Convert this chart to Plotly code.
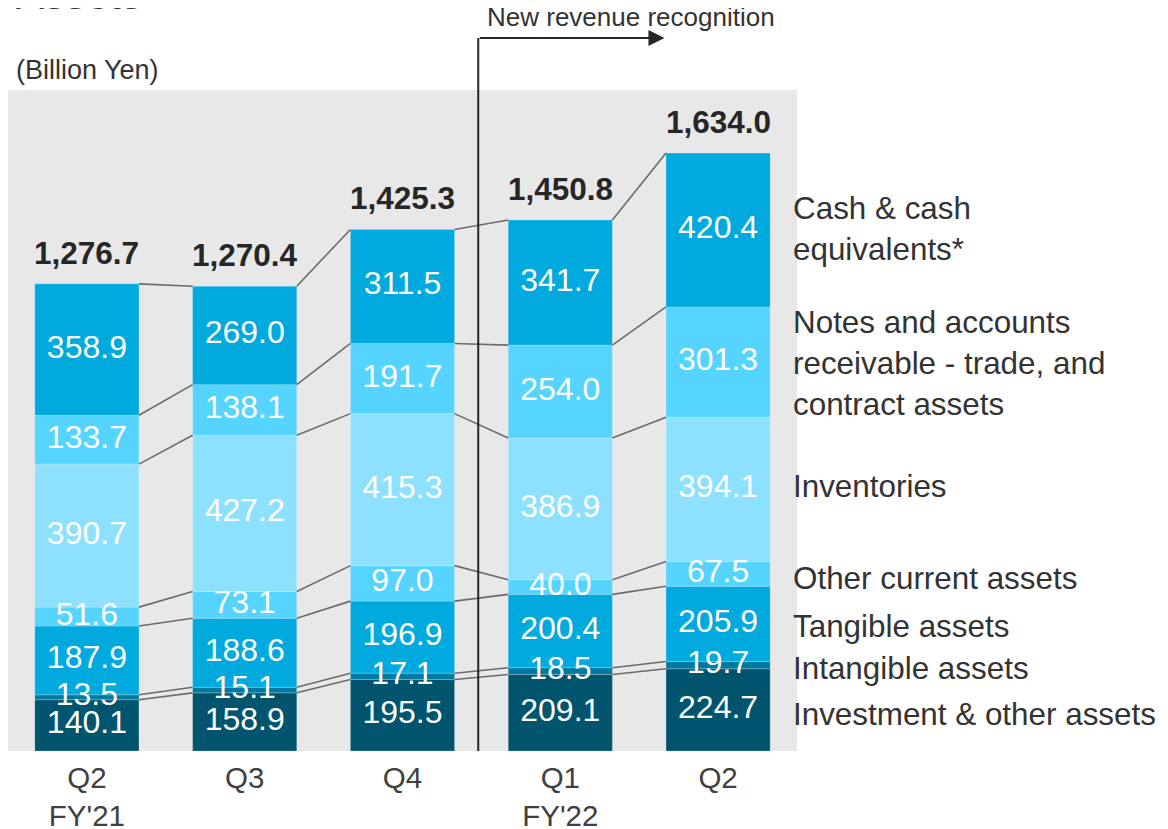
import numpy as np
import plotly.graph_objects as go

# ---------------- data ----------------
quarters = ["Q2<br>FY'21", "Q3", "Q4", "Q1<br>FY'22", "Q2"]
series_names = [
    "Investment & other assets",
    "Intangible assets",
    "Tangible assets",
    "Other current assets",
    "Inventories",
    "Notes and accounts<br>receivable - trade, and<br>contract assets",
    "Cash & cash<br>equivalents*",
]
investment = [140.1, 158.9, 195.5, 209.1, 224.7]
intangible = [13.5, 15.1, 17.1, 18.5, 19.7]
tangible = [187.9, 188.6, 196.9, 200.4, 205.9]
other_current = [51.6, 73.1, 97.0, 40.0, 67.5]
inventories = [390.7, 427.2, 415.3, 386.9, 394.1]
receivables = [133.7, 138.1, 191.7, 254.0, 301.3]
cash = [358.9, 269.0, 311.5, 341.7, 420.4]
totals = [1276.7, 1270.4, 1425.3, 1450.8, 1634.0]

# ---------------- styles ----------------
colors = ["#00546E", "#0079A0", "#00A9DE", "#55D4FF", "#8DE1FF", "#55D4FF", "#00A9DE"]
legend_y = [0.0545, 0.1241, 0.1876, 0.2617, 0.3994, 0.5855, 0.7897]
FONT = "Liberation Sans, Arial, sans-serif"
BAR_W = 0.66

all_series = [investment, intangible, tangible, other_current, inventories, receivables, cash]
xs = np.arange(len(quarters))
vals = np.array(all_series)
bases = np.vstack([np.zeros(len(xs)), np.cumsum(vals, axis=0)[:-1]])
tops = bases + vals

fig = go.Figure()

for s, (v, b, c) in enumerate(zip(vals, bases, colors)):
    fig.add_trace(go.Bar(
        x=xs, y=v, base=b, width=BAR_W,
        marker=dict(color=c, line=dict(width=0.6, color="rgba(255,255,255,0.35)")),
        showlegend=False, hoverinfo="skip",
    ))

# connector lines between consecutive bars at each stack boundary
lx, ly = [], []
for s in range(tops.shape[0]):
    for i in range(len(xs) - 1):
        lx += [xs[i] + BAR_W / 2, xs[i + 1] - BAR_W / 2, None]
        ly += [tops[s, i], tops[s, i + 1], None]
fig.add_trace(go.Scatter(x=lx, y=ly, mode="lines",
                         line=dict(color="#6B6B6B", width=1.6),
                         showlegend=False, hoverinfo="skip"))

# segment value labels
sx, sy, st = [], [], []
for s in range(vals.shape[0]):
    for i in range(len(xs)):
        sx.append(xs[i])
        sy.append(bases[s, i] + vals[s, i] / 2)
        st.append(f"{vals[s, i]:.1f}")
fig.add_trace(go.Scatter(x=sx, y=sy, text=st, mode="text",
                         textposition="middle center",
                         textfont=dict(color="white", size=32, family=FONT),
                         showlegend=False, hoverinfo="skip"))

annotations = []
# totals
for i, t in enumerate(totals):
    annotations.append(dict(x=xs[i], y=t, xref="x", yref="y", text=f"<b>{t:,.1f}</b>",
                            showarrow=False, yanchor="middle", yshift=31,
                            font=dict(size=31.5, color="#262626", family=FONT)))
# right side category labels
for name, yy in zip(series_names, legend_y):
    annotations.append(dict(x=1, y=yy, xref="paper", yref="paper", text=name,
                            showarrow=False, xanchor="left", yanchor="middle", align="left",
                            xshift=-6, font=dict(size=31.4, color="#333333", family=FONT)))
# unit label
annotations.append(dict(x=0, y=1.0, xref="paper", yref="paper", text="(Billion Yen)",
                        showarrow=False, xanchor="left", yanchor="bottom", xshift=6, yshift=3,
                        font=dict(size=27, color="#333333", family=FONT)))
# title (mostly cropped at the top)
annotations.append(dict(x=0, y=1.1135, xref="paper", yref="paper", text="Assets",
                        showarrow=False, xanchor="left", yanchor="bottom", xshift=6, yshift=-5,
                        font=dict(size=42, color="#333333", family=FONT)))
# new revenue recognition arrow
annotations.append(dict(x=3.66, y=1.0787, xref="x", yref="paper", text="",
                        showarrow=True, axref="x", ax=2.48, ayref="pixel", ay=0,
                        arrowhead=2, arrowsize=1.6, arrowwidth=2, arrowcolor="#262626",
                        standoff=0, startstandoff=0))
annotations.append(dict(x=3.45, y=1.110, xref="x", yref="paper", text="New revenue recognition",
                        showarrow=False, xanchor="center", yanchor="middle",
                        font=dict(size=26, color="#333333", family=FONT)))

fig.add_shape(type="line", x0=2.48, x1=2.48, xref="x", y0=0, y1=1.0787, yref="paper",
              line=dict(color="#262626", width=2))

# page body has an 8px margin, so the figure is sized/placed to compensate
fig.update_layout(
    width=1160, height=821,
    margin=dict(l=0, r=371, t=82, b=78, autoexpand=False),
    paper_bgcolor="white", plot_bgcolor="#E8E8E8",
    barmode="overlay",
    annotations=annotations,
    xaxis=dict(range=[-0.5, 4.5], tickvals=list(xs), ticktext=quarters, showgrid=False,
               zeroline=False, showline=False, ticks="", ticklabelstandoff=6, automargin=False,
               tickfont=dict(size=29.5, color="#404040", family=FONT), fixedrange=True),
    yaxis=dict(range=[0, 1806], visible=False, showgrid=False, zeroline=False,
               automargin=False, fixedrange=True),
    font=dict(family=FONT),
)

fig.write_html("out.html")
